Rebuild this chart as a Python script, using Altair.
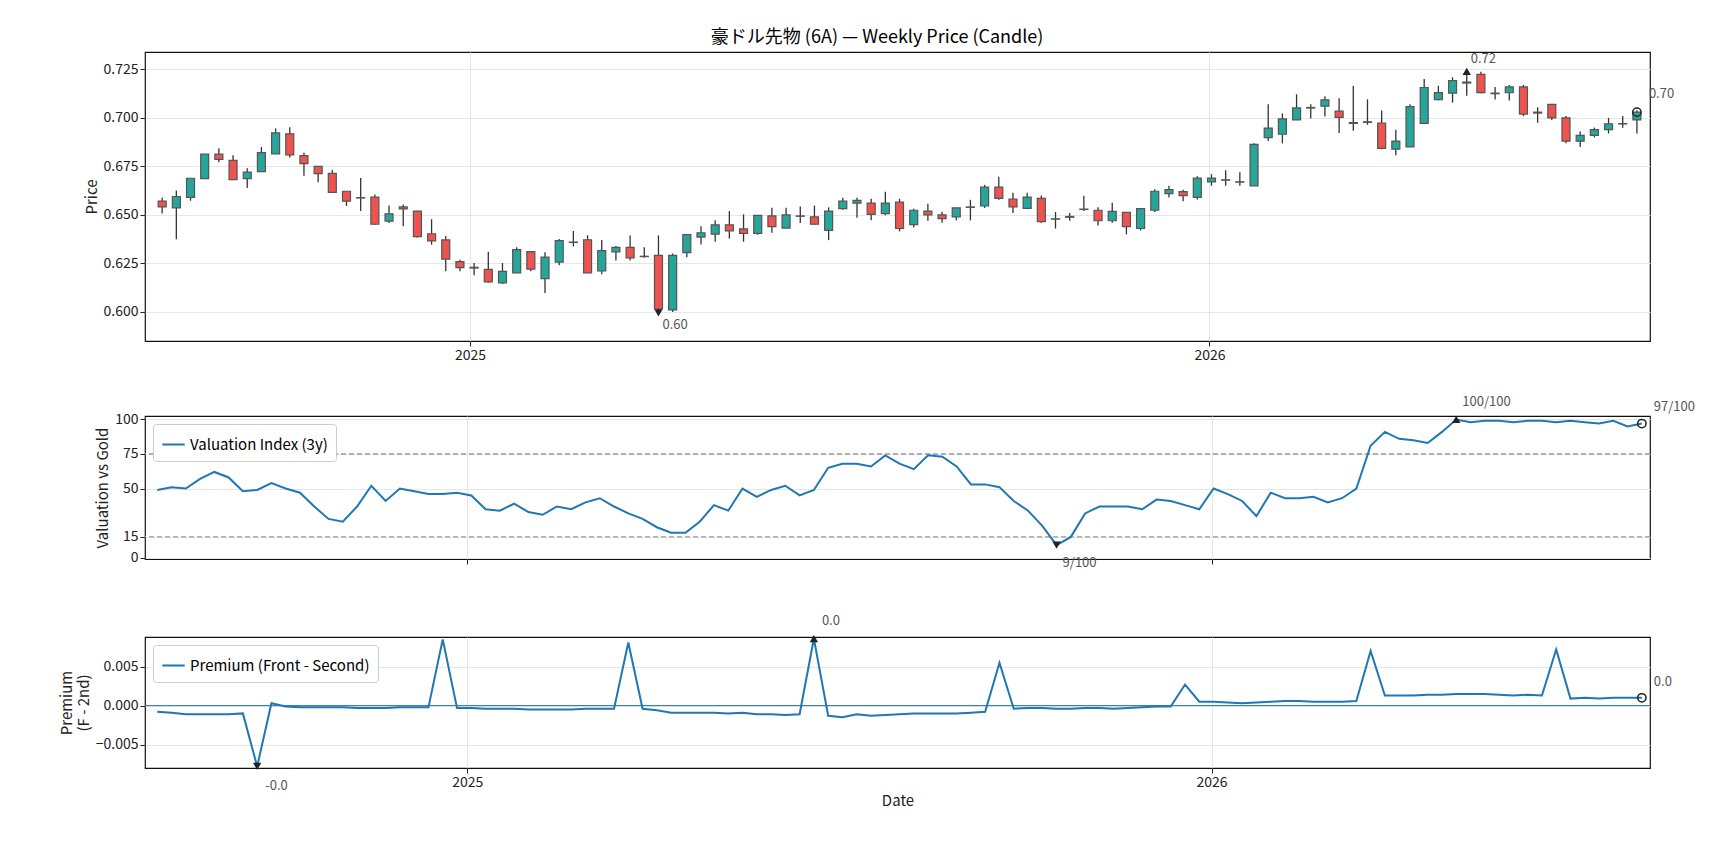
import altair as alt
import pandas as pd

# weekly candles, 6A futures
dates = pd.date_range("2024-08-02", periods=105, freq="W-FRI")

opens = [.6571, .6536, .6590, .6687, .6813, .6781, .6687, .6723, .6815, .6918,
         .6806, .6750, .6714, .6622, .6589, .6592, .6468, .6541, .6520, .6403,
         .6371, .6259, .6230, .6219, .6149, .6201, .6311, .6172, .6257, .6358,
         .6372, .6211, .6310, .6333, .6285, .6291, .6010, .6306, .6386, .6401,
         .6449, .6428, .6405, .6495, .6432, .6493, .6490, .6420, .6532, .6561,
         .6561, .6507, .6566, .6450, .6520, .6500, .6490, .6539, .6546, .6643,
         .6582, .6534, .6585, .6478, .6488, .6528, .6524, .6470, .6513, .6430,
         .6524, .6610, .6620, .6590, .6670, .6679, .6669, .6650, .6899, .6916,
         .6990, .7051, .7061, .7035, .6972, .6977, .6974, .6839, .6851, .6972,
         .7094, .7128, .7180, .7225, .7128, .7130, .7160, .7030, .7070, .7000,
         .6880, .6910, .6940, .6969, .6990]
closes = [.6541, .6595, .6689, .6813, .6786, .6682, .6721, .6821, .6923, .6810,
          .6765, .6713, .6616, .6571, .6587, .6452, .6505, .6531, .6388, .6366,
          .6272, .6228, .6226, .6155, .6209, .6321, .6221, .6282, .6367, .6360,
          .6201, .6316, .6333, .6279, .6287, .6015, .6291, .6398, .6408, .6449,
          .6418, .6405, .6498, .6440, .6500, .6495, .6452, .6520, .6571, .6575,
          .6503, .6561, .6430, .6524, .6500, .6481, .6536, .6541, .6643, .6585,
          .6541, .6592, .6465, .6480, .6492, .6530, .6470, .6518, .6440, .6532,
          .6622, .6630, .6600, .6690, .6690, .6681, .6671, .6864, .6948, .6995,
          .7052, .7054, .7093, .7003, .6976, .6980, .6843, .6881, .7058, .7157,
          .7131, .7192, .7185, .7131, .7125, .7160, .7020, .7025, .7000, .6880,
          .6910, .6940, .6970, .6971, .7030]
highs = [.6588, .6626, .6689, .6813, .6844, .6808, .6741, .6850, .6946, .6952,
         .6820, .6750, .6731, .6622, .6690, .6605, .6548, .6554, .6520, .6478,
         .6391, .6269, .6252, .6310, .6252, .6333, .6311, .6308, .6376, .6417,
         .6395, .6371, .6340, .6394, .6333, .6394, .6301, .6398, .6442, .6473,
         .6520, .6503, .6498, .6537, .6537, .6544, .6548, .6539, .6588, .6588,
         .6583, .6619, .6583, .6532, .6558, .6517, .6536, .6578, .6655, .6697,
         .6614, .6614, .6600, .6515, .6510, .6599, .6539, .6563, .6515, .6535,
         .6632, .6650, .6630, .6700, .6710, .6730, .6720, .6870, .7070, .7023,
         .7122, .7070, .7112, .7101, .7166, .7096, .7038, .6939, .7070, .7201,
         .7166, .7210, .7240, .7238, .7160, .7170, .7170, .7055, .7070, .7010,
         .6930, .6950, .7000, .7010, .7040]
lows = [.6507, .6374, .6573, .6687, .6772, .6680, .6639, .6721, .6815, .6796,
        .6702, .6668, .6616, .6546, .6520, .6449, .6459, .6442, .6383, .6347,
        .6209, .6209, .6189, .6150, .6144, .6201, .6209, .6097, .6240, .6337,
        .6201, .6194, .6265, .6265, .6279, .5995, .6000, .6282, .6347, .6362,
        .6378, .6362, .6398, .6408, .6432, .6459, .6449, .6370, .6527, .6486,
        .6473, .6498, .6415, .6435, .6470, .6460, .6473, .6472, .6536, .6578,
        .6510, .6534, .6460, .6430, .6470, .6520, .6445, .6460, .6400, .6420,
        .6515, .6590, .6570, .6580, .6650, .6650, .6650, .6650, .6881, .6869,
        .6990, .6997, .7007, .6923, .6934, .6965, .6839, .6808, .6851, .6972,
        .7091, .7079, .7114, .7127, .7095, .7090, .7010, .6975, .6990, .6870,
        .6850, .6900, .6920, .6950, .6920]

valuation = [49, 51, 50, 57, 62, 58, 48, 49, 54, 50,
             47, 37, 28, 26, 37, 52, 41, 50, 48, 46,
             46, 47, 45, 35, 34, 39, 33, 31, 37, 35,
             40, 43, 37, 32, 28, 22, 18, 18, 26, 38,
             34, 50, 44, 49, 52, 45, 49, 65, 68, 68,
             66, 74, 68, 64, 74, 73, 66, 53, 53, 51,
             41, 34, 23, 9, 15, 32, 37, 37, 37, 35,
             42, 41, 38, 35, 50, 46, 41, 30, 47, 43,
             43, 44, 40, 43, 50, 81, 91, 86, 85, 83,
             91, 100, 98, 99, 99, 98, 99, 99, 98, 99,
             98, 97, 99, 95, 97]

premium = [-0.0008, -0.0009, -0.0011, -0.0011, -0.0011, -0.0011, -0.0010, -0.0078, 0.0003,
           -0.0001, -0.0002, -0.0002, -0.0002, -0.0002, -0.0003, -0.0003, -0.0003, -0.0002, -0.0002, -0.0002,
           0.0085,
           -0.0003, -0.0003, -0.0004, -0.0004, -0.0004, -0.0005, -0.0005, -0.0005, -0.0005, -0.0004, -0.0004, -0.0004,
           0.0081,
           -0.0004, -0.0006, -0.0009, -0.0009, -0.0009, -0.0009, -0.0010, -0.0009, -0.0011, -0.0011, -0.0012, -0.0011,
           0.0086,
           -0.0013, -0.0015, -0.0011, -0.0013, -0.0012, -0.0011, -0.0010, -0.0010, -0.0010, -0.0010, -0.0009, -0.0008,
           0.0055,
           -0.0004, -0.0003, -0.0003, -0.0004, -0.0004, -0.0003, -0.0003, -0.0004, -0.0003, -0.0002, -0.0001, -0.0001,
           0.0027,
           0.0005, 0.0005, 0.0004, 0.0003, 0.0004, 0.0005, 0.0006, 0.0006, 0.0005, 0.0005, 0.0005, 0.0006,
           0.0070,
           0.0013, 0.0013, 0.0013, 0.0014, 0.0014, 0.0015, 0.0015, 0.0015, 0.0014, 0.0013, 0.0014, 0.0013,
           0.0072,
           0.0009, 0.0010, 0.0009, 0.0010, 0.0010, 0.0010]

df = pd.DataFrame({"date": dates, "open": opens, "close": closes, "high": highs,
                   "low": lows, "val": valuation, "prem": premium})
df["up"] = df["close"] >= df["open"]

FONT = "Noto Sans CJK JP"
W = 1505
xdom = [pd.Timestamp("2024-07-27").isoformat(), pd.Timestamp("2026-08-04").isoformat()]
yr_ticks = [pd.Timestamp("2025-01-01").isoformat(), pd.Timestamp("2026-01-01").isoformat()]


def xenc(title=None, labels=True):
    return alt.X("date:T", scale=alt.Scale(domain=xdom),
                 axis=alt.Axis(values=yr_ticks, format="%Y", title=title,
                               labelColor="#222" if labels else "transparent"))


def pt(i, col):
    r = df.iloc[i]
    return pd.DataFrame({"date": [r["date"]], "y": [r[col]]})


def marker(d, shape, X, Y, filled=True):
    return alt.Chart(d).mark_point(shape=shape, size=70, filled=filled, color="#222",
                                   strokeWidth=1.5, opacity=1).encode(x=X, y=Y("y:Q"))


def label(d, txt, dx, dy, X, Y):
    return alt.Chart(d).mark_text(text=txt, dx=dx, dy=dy, align="left", fontSize=13,
                                  color="#555", font=FONT).encode(x=X, y=Y("y:Q"))


def legend():
    return alt.Legend(title=None, orient="top-left", fillColor="white",
                      strokeColor="#ccc", padding=8, cornerRadius=3, labelLimit=0,
                      symbolType="stroke", symbolStrokeWidth=2, symbolSize=500,
                      labelFontSize=15, labelFont=FONT, offset=8)


# --- price panel
X1 = xenc()
pr_scale = alt.Scale(domain=[0.585, 0.734], nice=False, zero=False)
pr_axis = alt.Axis(values=[0.6, 0.625, 0.65, 0.675, 0.7, 0.725], format=".3f", title="Price")
Y1 = lambda f: alt.Y(f, scale=pr_scale, axis=pr_axis)
base = alt.Chart(df)
wick = base.mark_rule(color="#333", strokeWidth=1.3).encode(x=X1, y=Y1("low:Q"), y2="high:Q")
body = base.mark_bar(size=8, stroke="#555", strokeWidth=1.2).encode(
    x=X1, y=Y1("open:Q"), y2="close:Q",
    color=alt.Color("up:N", scale=alt.Scale(domain=[True, False], range=["#26a69a", "#ef5350"]),
                    legend=None))
last = len(df) - 1
p_min = pt(int(df["low"].idxmin()), "low")
p_max = pt(int(df["high"].idxmax()), "high")
p_end = pt(last, "close")
price = alt.layer(
    wick, body,
    marker(p_min, "triangle-down", X1, Y1), label(p_min, "0.60", 4, 12, X1, Y1),
    marker(p_max, "triangle-up", X1, Y1), label(p_max, "0.72", 4, -12, X1, Y1),
    marker(p_end, "circle", X1, Y1, False), label(p_end, "0.70", 12, -18, X1, Y1),
).properties(width=W, height=289)

# --- valuation panel
X2 = xenc(labels=False)
vaxis = alt.Axis(values=[0, 15, 50, 75, 100], labelOverlap=False, title="Valuation vs Gold")
vscale = alt.Scale(domain=[-1, 102.5], nice=False)
Y2 = lambda f: alt.Y(f, scale=vscale, axis=vaxis)
vbase = alt.Chart(df).transform_calculate(series="'Valuation Index (3y)'")
vline = vbase.mark_line(strokeWidth=2).encode(
    x=X2, y=Y2("val:Q"),
    color=alt.Color("series:N", scale=alt.Scale(range=["#1f77b4"]), legend=legend()))
thr = pd.DataFrame({"y": [75, 15]})
vrules = alt.Chart(thr).mark_rule(color="#999", strokeDash=[5, 3], strokeWidth=1.3).encode(
    y=Y2("y:Q"))
v_min = pt(int(df["val"].idxmin()), "val")
v_max = pt(int(df["val"].idxmax()), "val")
v_end = pt(last, "val")
val = alt.layer(
    vrules, vline,
    marker(v_min, "triangle-down", X2, Y2), label(v_min, "9/100", 6, 18, X2, Y2),
    marker(v_max, "triangle-up", X2, Y2), label(v_max, "100/100", 6, -17, X2, Y2),
    marker(v_end, "circle", X2, Y2, False), label(v_end, "97/100", 12, -17, X2, Y2),
).properties(width=W, height=143)

# --- premium panel
X3 = xenc(title="Date")
pscale = alt.Scale(domain=[-0.0080, 0.0088], nice=False)
paxis = alt.Axis(values=[-0.005, 0, 0.005], format=".3f", title=["Premium", "(F - 2nd)"])
Y3 = lambda f: alt.Y(f, scale=pscale, axis=paxis)
pbase = alt.Chart(df).transform_calculate(series="'Premium (Front - Second)'")
pline = pbase.mark_line(strokeWidth=2).encode(
    x=X3, y=Y3("prem:Q"),
    color=alt.Color("series:N", scale=alt.Scale(range=["#1f77b4"]), legend=legend()))
zero = alt.Chart(pd.DataFrame({"y": [0]})).mark_rule(color="#1f77b4", strokeWidth=1).encode(
    y=Y3("y:Q"))
q_min = pt(int(df["prem"].idxmin()), "prem")
q_max = pt(int(df["prem"].idxmax()), "prem")
q_end = pt(last, "prem")
prem = alt.layer(
    zero, pline,
    marker(q_min, "triangle-down", X3, Y3), label(q_min, "-0.0", 8, 20, X3, Y3),
    marker(q_max, "triangle-up", X3, Y3), label(q_max, "0.0", 8, -18, X3, Y3),
    marker(q_end, "circle", X3, Y3, False), label(q_end, "0.0", 12, -16, X3, Y3),
).properties(width=W, height=131)

chart = alt.vconcat(price, val, prem, spacing=32).resolve_scale(
    color="independent"
).properties(
    padding={"left": 50, "top": 21, "right": 10, "bottom": 5},
    title=alt.TitleParams("豪ドル先物 (6A) — Weekly Price (Candle)", fontSize=18,
                          fontWeight="normal", font=FONT, anchor="middle", offset=4)
).configure_view(stroke="#111", strokeWidth=1.2).configure_axis(
    labelFont=FONT, titleFont=FONT, labelFontSize=14, titleFontSize=15,
    titleFontWeight="normal", gridColor="#e6e6e6", domain=False, tickColor="#222",
    labelColor="#222", titleColor="#222"
)

chart.save("out.html", embed_options={"renderer": "svg", "actions": False})
